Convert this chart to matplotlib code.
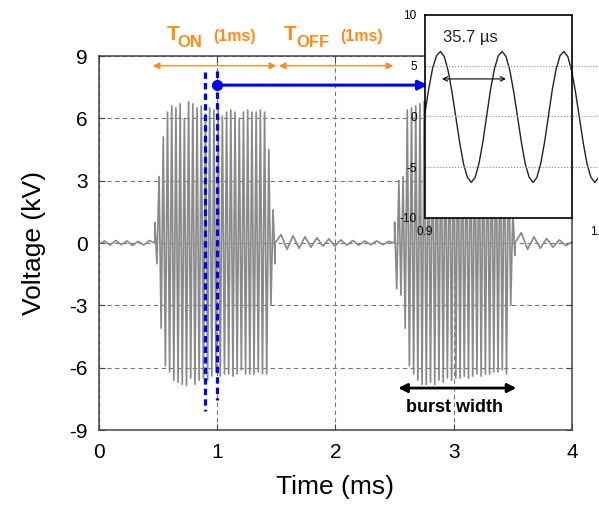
import numpy as np
import matplotlib
matplotlib.use('Agg')
import matplotlib.pyplot as plt

plt.rcParams['font.family'] = ['Liberation Sans', 'DejaVu Sans']
plt.rcParams['axes.unicode_minus'] = False

###waveform values (kV)###
PERIOD = 0.0357  # ms, the 35.7 us period shown in the inset

burst1_start = 0.472
burst1_top = [1.0, 3.2, 5.1, 6.3, 6.6, 6.5, 6.7, 6.0, 6.8, 6.7, 6.5, 6.6, 6.2, 6.5, 6.4,
              6.5, 6.1, 6.3, 6.4, 6.3, 6.0, 6.3, 6.4, 6.3, 6.3, 6.4, 6.3, 4.5, 1.6]
burst1_bot = [-1.0, -4.1, -5.9, -6.2, -6.6, -6.7, -6.8, -6.85, -6.5, -6.8, -6.6, -6.5, -6.6, -6.4, -6.2,
              -6.4, -6.3, -6.3, -6.4, -6.3, -6.1, -6.3, -6.3, -6.3, -6.2, -6.3, -6.3, -3.0, -1.0]
burst2_start = 2.50
burst2_top = [1.0, 3.0, 3.2, 6.4, 6.5, 6.6, 6.7, 6.8, 6.7, 6.6, 6.5, 6.6, 6.4, 6.5, 6.4,
              6.5, 6.3, 6.4, 6.3, 6.4, 6.3, 6.3, 6.4, 6.3, 6.3, 6.2, 6.3, 5.0, 1.5]
burst2_bot = [-2.2, -2.5, -4.1, -5.9, -6.3, -6.6, -6.8, -6.8, -6.7, -6.8, -6.6, -6.7, -6.5, -6.6, -6.5,
              -6.5, -6.4, -6.5, -6.4, -6.3, -6.4, -6.3, -6.3, -6.2, -6.2, -6.1, -6.3, -3.0, -0.6]

###ringing between bursts###
gap1_v = [-0.05, 0.1, -0.1, 0.12, -0.08, 0.1, -0.12, 0.08, -0.1, 0.12, 0.0]
gap2_v = [0.0, 0.4, -0.3, 0.35, -0.25, 0.3, -0.2, 0.25, -0.15, 0.2, -0.15, 0.15, -0.1,
          0.12, -0.1, 0.1, -0.08, 0.1, -0.08, 0.08, 0.0]
gap3_v = [0.0, 0.5, -0.3, 0.3, -0.25, 0.22, -0.2, 0.15, -0.12, 0.05]

###inset samples from 0.9 ms, 16 per period###
inset_v = [0.4, 2.8, 4.8, 6.0, 6.4, 5.9, 4.5, 2.4, -0.1, -2.6, -4.7, -6.0, -6.5, -6.0, -4.6, -2.5,
           0.1, 2.7, 4.7, 6.0, 6.4, 5.9, 4.5, 2.4, -0.1, -2.6, -4.7, -6.0, -6.5, -6.0, -4.6, -2.5,
           0.1, 2.7, 4.7, 6.0, 6.4, 5.9, 4.5, 2.4, -0.1, -2.6, -4.7, -6.0, -6.5, -6.0]

x_ticks = [0, 1, 2, 3, 4]
y_ticks = [-9, -6, -3, 0, 3, 6, 9]
inset_yticks = [-10, -5, 0, 5, 10]


def burst(start, top, bot):
    n = len(top)
    t = start + np.arange(2 * n) * PERIOD / 2
    v = np.empty(2 * n)
    v[0::2] = top
    v[1::2] = bot
    return t, v


t1, v1 = burst(burst1_start, burst1_top, burst1_bot)
t2, v2 = burst(burst2_start, burst2_top, burst2_bot)
g1 = np.linspace(0.0, t1[0], len(gap1_v))
g2 = np.linspace(t1[-1], t2[0], len(gap2_v))
g3 = np.linspace(t2[-1], 4.0, len(gap3_v))
t_all = np.concatenate([g1, t1, g2, t2, g3])
v_all = np.concatenate([gap1_v, v1, gap2_v, v2, gap3_v])

fig = plt.figure(figsize=(5.99, 5.08), dpi=100)
ax = fig.add_axes([0.1653, 0.1535, 0.7896, 0.7362])
ax.plot(t_all, v_all, color='#8a8a8a', lw=1.25)
ax.set_xlim(0, 4)
ax.set_ylim(-9, 9)
ax.set_xticks(x_ticks)
ax.set_yticks(y_ticks)
ax.grid(True, color='#777777', ls=(0, (4, 3)), lw=0.8)
ax.tick_params(direction='in', length=4, top=True, right=True, labelsize=15, color='#444444')
ax.tick_params(axis='x', pad=9)
ax.tick_params(axis='y', pad=8)
for s in ax.spines.values():
    s.set_color('#444444')
    s.set_linewidth(1.1)
ax.set_xlabel('Time (ms)', fontsize=19, labelpad=10)
ax.set_ylabel('Voltage (kV)', fontsize=19, labelpad=17)

###blue markers of zoomed window###
ax.plot([0.9, 0.9], [8.25, -8.1], color='blue', lw=2.3, ls=(0, (2, 1.3)))
ax.plot([1.0, 1.0], [8.3, -7.55], color='blue', lw=2.3, ls=(0, (2, 1.3)))
ax.plot(1.0, 7.6, 'o', color='blue', ms=7)
ax.annotate('', xy=(2.78, 7.6), xytext=(1.0, 7.6),
            arrowprops=dict(arrowstyle='-|>', color='blue', lw=2.2, mutation_scale=14, shrinkA=0, shrinkB=0))

###T_on / T_off###
orange = '#FF8C1A'
for a, b in [(0.454, 1.50), (1.52, 2.49)]:
    ax.annotate('', xy=(b, 8.53), xytext=(a, 8.53),
                arrowprops=dict(arrowstyle='<|-|>', color=orange, lw=1.0, mutation_scale=10, shrinkA=0, shrinkB=0))
ax.text(0.572, 9.77, 'T', color=orange, fontsize=15, fontweight='semibold', va='baseline', clip_on=False)
ax.text(0.665, 9.42, 'ON', color=orange, fontsize=12, fontweight='semibold', va='baseline', clip_on=False)
ax.text(0.964, 9.74, '(1ms)', color=orange, fontsize=11.5, fontweight='bold', va='baseline', clip_on=False)
ax.text(1.565, 9.77, 'T', color=orange, fontsize=15, fontweight='semibold', va='baseline', clip_on=False)
ax.text(1.665, 9.42, 'OFF', color=orange, fontsize=12, fontweight='semibold', va='baseline', clip_on=False)
ax.text(2.038, 9.74, '(1ms)', color=orange, fontsize=11.5, fontweight='bold', va='baseline', clip_on=False)

###burst width###
ax.annotate('', xy=(3.53, -6.98), xytext=(2.53, -6.98),
            arrowprops=dict(arrowstyle='<|-|>', color='black', lw=2.0, mutation_scale=13, shrinkA=0, shrinkB=0))
ax.text(3.01, -7.94, 'burst width', fontsize=13, fontweight='bold', ha='center', va='center')

###inset zoom 0.9 - 1.0 ms###
ins = fig.add_axes([0.7095, 0.5709, 0.2888, 0.3996])
t_in = 0.9 + np.arange(len(inset_v)) * PERIOD / 16
ins.plot(t_in, inset_v, color='#222222', lw=1.0)
ins.set_xlim(0.9, 1.0)
ins.set_ylim(-10, 10)
ins.set_yticks(inset_yticks)
ins.set_xticks([0.9, 1.0])
ins.set_xticklabels(['0.9', '1.0'])
for y in [-5, 0, 5]:
    ins.axhline(y, color='#888888', ls=':', lw=0.8)
ins.tick_params(axis='y', direction='in', length=0, pad=6, labelsize=8.5)
ins.tick_params(axis='x', direction='in', length=0, pad=6, labelsize=8.5)
ins.spines['right'].set_visible(False)
ins.spines['top'].set_bounds(0.9, 0.985)
ins.spines['bottom'].set_bounds(0.9, 0.985)
for s in ['left', 'top', 'bottom']:
    ins.spines[s].set_linewidth(1.2)
ins.axvline(0.985, color='black', lw=1.2)
ins.annotate('', xy=(0.9468, 3.7), xytext=(0.9098, 3.7),
             arrowprops=dict(arrowstyle='<->', color='black', lw=0.8, mutation_scale=8, shrinkA=0, shrinkB=0))
ins.text(0.9104, 7.75, '35.7 \u00b5s', fontsize=12, color='#222222', ha='left', va='center')

fig.savefig('out.png', dpi=100)
